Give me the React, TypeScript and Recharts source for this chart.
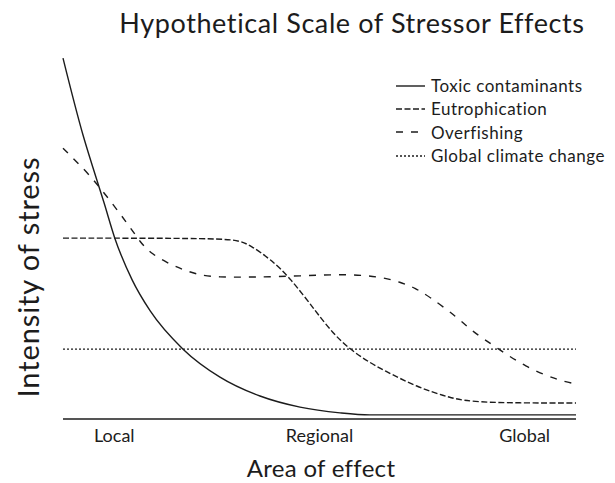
import { Line, LineChart, XAxis, YAxis } from "recharts";

const FONT = "Lato, 'Open Sans', sans-serif";
const INK = "#1c1c1c";

// x: 0 = local, 100 = global; y: relative intensity of stress
const toxicX = [0, 3.9, 5.8, 8.0, 10.1, 13.5, 17.0, 23.4, 30.6, 38.4, 46.2, 54.0, 59.8, 100];
const toxicY = [87.8, 69.1, 61.3, 52.6, 44.0, 33.8, 26.3, 17.0, 10.2, 5.6, 2.9, 1.5, 1.0, 1.0];

const eutroX = [0, 31.2, 34.5, 36.5, 40.4, 44.2, 49.5, 52.6, 55.6, 58.9, 62.4, 69.0, 75.4, 80.7, 100];
const eutroY = [44.0, 44.0, 43.3, 42.3, 38.9, 34.5, 25.8, 20.9, 17.3, 14.4, 11.9, 7.8, 5.1, 3.9, 3.9];

const fishX = [0, 3.3, 6.6, 13.1, 15.0, 17.0, 20.3, 23.4, 26.7, 30.0, 37.0, 46.2, 55.9, 62.4, 65.7, 68.6, 71.5, 76.8, 79.9, 84.6, 90.1, 96.3, 100];
const fishY = [65.9, 61.8, 57.4, 46.7, 43.1, 40.4, 38.0, 36.3, 35.0, 34.5, 34.5, 34.8, 35.3, 34.5, 33.3, 31.9, 29.7, 24.8, 21.2, 17.3, 12.7, 9.5, 8.5];

const climateX = [0, 100];
const climateY = [17.0, 17.0];

const tickValues = [10, 50, 90];
const tickLabels = ["Local", "Regional", "Global"];

const seriesNames = ["Toxic contaminants", "Eutrophication", "Overfishing", "Global climate change"];
const seriesDash = ["0", "6 2.5", "7 8", "2 2"];
const seriesCurve = ["monotone", "basis", "basis", "linear"] as const;

const toPoints = (xs: number[], ys: number[]) => xs.map((x, i) => ({ x, y: ys[i] }));

const series = [
  toPoints(toxicX, toxicY),
  toPoints(eutroX, eutroY),
  toPoints(fishX, fishY),
  toPoints(climateX, climateY),
];

function StressLegend() {
  return (
    <div
      style={{
        position: "absolute",
        left: 394,
        top: 74,
        fontFamily: FONT,
        fontSize: 17,
        letterSpacing: 0.5,
        color: INK,
      }}
    >
      {seriesNames.map((name, i) => (
        <div key={name} style={{ display: "flex", alignItems: "center", height: 23.3 }}>
          <svg width={37} height={10}>
            <line
              x1={2}
              x2={31}
              y1={5}
              y2={5}
              stroke={INK}
              strokeWidth={1.4}
              strokeDasharray={seriesDash[i] === "0" ? undefined : seriesDash[i]}
            />
          </svg>
          <span>{name}</span>
        </div>
      ))}
    </div>
  );
}

export default function App() {
  return (
    <div style={{ position: "absolute", left: 0, top: 0, width: 615, height: 483, background: "#fff" }}>
      <LineChart
        width={615}
        height={483}
        margin={{ top: 8, right: 39, bottom: 34, left: 63 }}
        style={{ position: "absolute", left: 0, top: 0 }}
      >
        <XAxis
          type="number"
          dataKey="x"
          domain={[0, 100]}
          ticks={tickValues}
          tickFormatter={(v: number) => tickLabels[tickValues.indexOf(v)] ?? ""}
          tick={{ fill: INK, fontSize: 18, fontFamily: FONT }}
          tickLine={false}
          axisLine={{ stroke: INK, strokeWidth: 1.5 }}
          height={30}
          tickMargin={4}
        />
        <YAxis
          type="number"
          domain={[0, 100]}
          tick={false}
          tickLine={false}
          axisLine={{ stroke: INK, strokeWidth: 1.5 }}
          width={0}
        />
        {series.map((data, i) => (
          <Line
            key={seriesNames[i]}
            name={seriesNames[i]}
            data={data}
            dataKey="y"
            type={seriesCurve[i]}
            stroke={INK}
            strokeWidth={1.4}
            strokeDasharray={seriesDash[i] === "0" ? undefined : seriesDash[i]}
            dot={false}
            activeDot={false}
            isAnimationActive={false}
          />
        ))}
      </LineChart>
      <div
        style={{
          position: "absolute",
          left: 352,
          top: 22,
          transform: "translate(-50%, -50%)",
          whiteSpace: "nowrap",
          fontFamily: FONT,
          fontSize: 27,
          letterSpacing: 0.6,
          color: INK,
        }}
      >
        Hypothetical Scale of Stressor Effects
      </div>
      <div
        style={{
          position: "absolute",
          left: 27,
          top: 277,
          transform: "translate(-50%, -50%) rotate(-90deg)",
          whiteSpace: "nowrap",
          fontFamily: FONT,
          fontSize: 29,
          letterSpacing: 0.9,
          color: INK,
        }}
      >
        Intensity of stress
      </div>
      <div
        style={{
          position: "absolute",
          left: 321,
          top: 467,
          transform: "translate(-50%, -50%)",
          whiteSpace: "nowrap",
          fontFamily: FONT,
          fontSize: 24,
          letterSpacing: 0.3,
          color: INK,
        }}
      >
        Area of effect
      </div>
      <StressLegend />
    </div>
  );
}
